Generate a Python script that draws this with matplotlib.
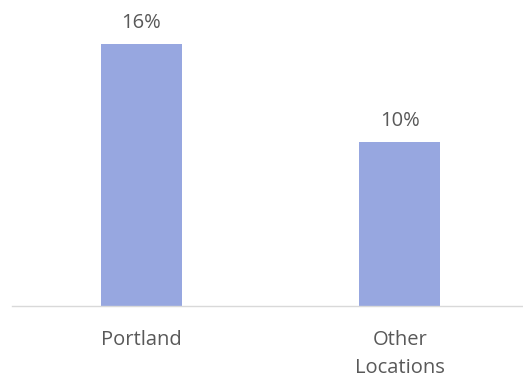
import matplotlib.pyplot as plt

# data
categories = ["Portland", "Other\nLocations"]
values = [16, 10]
labels = ["16%", "10%"]

bar_color = "#97A7E0"
text_color = "#595959"

plt.rcParams['font.family'] = ['Open Sans', 'DejaVu Sans']

fig = plt.figure(figsize=(5.23, 3.79), dpi=100)
ax = fig.add_axes([12/523, 73/379, 511/523, 306/379])

x = range(len(categories))
bars = ax.bar(x, values, width=0.313, color=bar_color)

for b, lab in zip(bars, labels):
    ax.annotate(lab, (b.get_x() + b.get_width()/2, b.get_height()),
                xytext=(0, 15.5), textcoords='offset points',
                ha='center', va='center', fontsize=14.5, color=text_color)

ax.set_xlim(-0.5, 1.476)
ax.set_ylim(0, 18.69)
ax.set_xticks(list(x))
ax.set_xticklabels(categories, fontsize=14.5, color=text_color, linespacing=1.5, va='top')
ax.tick_params(axis='x', length=0, pad=17.5)
ax.set_yticks([])
for s in ['top', 'right', 'left']:
    ax.spines[s].set_visible(False)
ax.spines['bottom'].set_color('#D9D9D9')
ax.spines['bottom'].set_linewidth(1)

fig.savefig("out.png", dpi=100)
